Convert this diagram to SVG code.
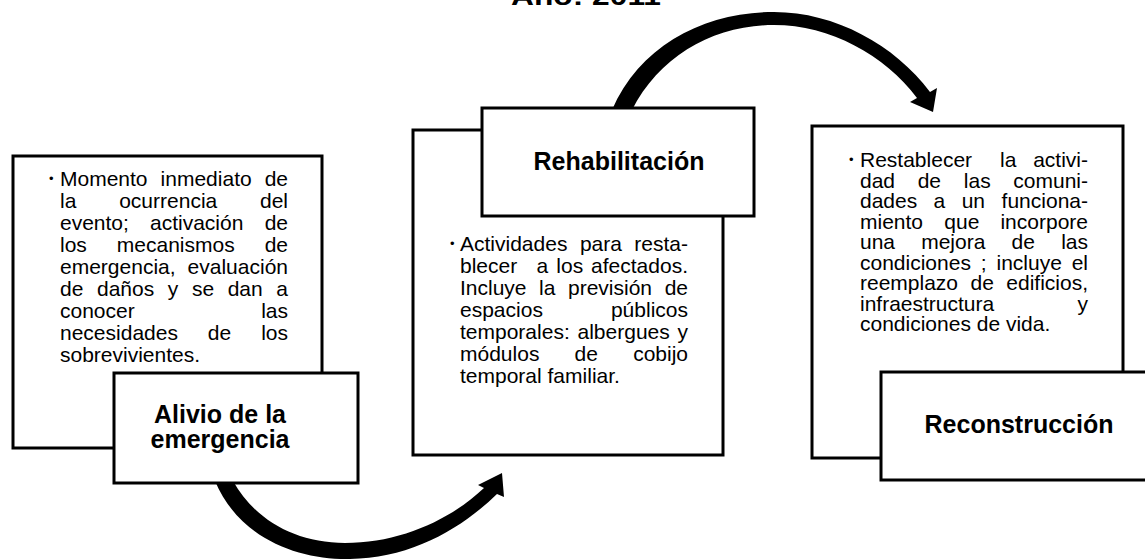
<svg xmlns="http://www.w3.org/2000/svg" width="1145" height="560" viewBox="0 0 1145 560">
<style>
.box{fill:#fff;stroke:#000;stroke-width:3}
.t{font-family:"Liberation Sans",Arial,sans-serif;font-size:21px;fill:#000}
.e{text-anchor:end}
.b{font-family:"Liberation Sans",Arial,sans-serif;font-size:25px;font-weight:bold;fill:#000;text-anchor:middle}
.bul{font-family:"Liberation Sans",Arial,sans-serif;font-size:13px;fill:#000}
.arrow{fill:#000;stroke:none}
</style>
<rect width="1145" height="560" fill="#fff"/>
<text x="586" y="5" class="b" font-size="28" textLength="150" lengthAdjust="spacingAndGlyphs">Año: 2011</text>
<g id="connectors">
<path class="arrow" d="M612,110 C640,45 705,12 774,12 C835,12 895,45 930,92 L937,88 L933,112 L910,102 L917,98 C885,55 830,25 774,25 C715,25 660,55 632,110 Z"/>
<path class="arrow" d="M215,481 C240,540 300,560 350,559 C410,558 460,530 497,494 L504,497 L502,473 L478,485 L484,488 C450,520 400,543 345,543 C295,543 255,520 233,481 Z"/>
</g>
<g id="alivio-text">
<rect class="box" x="13" y="156" width="309" height="292"/>
<text class="bul" x="49" y="183">•</text>
<text class="t" y="186"><tspan x="60">Momento</tspan><tspan x="160.6">inmediato</tspan></text>
<text class="t e" x="288" y="186">de</text>
<text class="t" y="208"><tspan x="60">la</tspan><tspan x="119.2">ocurrencia</tspan></text>
<text class="t e" x="288" y="208">del</text>
<text class="t" y="230"><tspan x="60">evento;</tspan><tspan x="150">activación</tspan></text>
<text class="t e" x="288" y="230">de</text>
<text class="t" y="252"><tspan x="60">los</tspan><tspan x="116.8">mecanismos</tspan></text>
<text class="t e" x="288" y="252">de</text>
<text class="t" x="60" y="274">emergencia,</text>
<text class="t e" x="288" y="274">evaluación</text>
<text class="t" y="296"><tspan x="60">de</tspan><tspan x="97">daños</tspan><tspan x="167.8">y</tspan><tspan x="191.9">se</tspan><tspan x="227.7">dan</tspan></text>
<text class="t e" x="288" y="296">a</text>
<text class="t" x="60" y="318">conocer</text>
<text class="t e" x="288" y="318">las</text>
<text class="t" y="340"><tspan x="60">necesidades</tspan><tspan x="207.8">de</tspan></text>
<text class="t e" x="288" y="340">los</text>
<text class="t" x="60" y="362">sobrevivientes.</text>
</g>
<g id="alivio-label">
<rect class="box" x="114" y="373" width="244" height="110"/>
<text class="b" x="220" y="423">Alivio de la</text>
<text class="b" x="220" y="448">emergencia</text>
</g>
<g id="rehabilitacion-text">
<rect class="box" x="413" y="130" width="310" height="325"/>
<text class="bul" x="450" y="248">•</text>
<text class="t" y="251"><tspan x="460">Actividades</tspan><tspan x="579.9">para</tspan></text>
<text class="t e" x="688" y="251">resta-</text>
<text class="t" y="273"><tspan x="460">blecer</tspan><tspan x="536.6">a</tspan><tspan x="556.3">los</tspan></text>
<text class="t e" x="688" y="273">afectados.</text>
<text class="t" y="295"><tspan x="460">Incluye</tspan><tspan x="539.1">la</tspan><tspan x="568">previsión</tspan></text>
<text class="t e" x="688" y="295">de</text>
<text class="t" x="460" y="317">espacios</text>
<text class="t e" x="688" y="317">públicos</text>
<text class="t" y="339"><tspan x="460">temporales:</tspan><tspan x="577.5">albergues</tspan></text>
<text class="t e" x="688" y="339">y</text>
<text class="t" y="361"><tspan x="460">módulos</tspan><tspan x="574.6">de</tspan></text>
<text class="t e" x="688" y="361">cobijo</text>
<text class="t" x="460" y="383">temporal familiar.</text>
</g>
<g id="rehabilitacion-label">
<rect class="box" x="482" y="108" width="272" height="108"/>
<text class="b" x="619" y="170">Rehabilitación</text>
</g>
<g id="reconstruccion-text">
<rect class="box" x="812" y="126" width="311" height="332"/>
<text class="bul" x="849" y="164">•</text>
<text class="t" y="167"><tspan x="860">Restablecer</tspan><tspan x="1000">la</tspan></text>
<text class="t e" x="1088" y="167">activi-</text>
<text class="t" y="187.5"><tspan x="860">dad</tspan><tspan x="917.7">de</tspan><tspan x="963.8">las</tspan></text>
<text class="t e" x="1088" y="187.5">comuni-</text>
<text class="t" y="208"><tspan x="860">dades</tspan><tspan x="933.6">a</tspan><tspan x="961.7">un</tspan></text>
<text class="t e" x="1088" y="208">funciona-</text>
<text class="t" y="228.5"><tspan x="860">miento</tspan><tspan x="944.3">que</tspan></text>
<text class="t e" x="1088" y="228.5">incorpore</text>
<text class="t" y="249"><tspan x="860">una</tspan><tspan x="921.2">mejora</tspan><tspan x="1011.6">de</tspan></text>
<text class="t e" x="1088" y="249">las</text>
<text class="t" y="269.5"><tspan x="860">condiciones</tspan><tspan x="980.8">;</tspan><tspan x="996.5">incluye</tspan></text>
<text class="t e" x="1088" y="269.5">el</text>
<text class="t" y="290"><tspan x="860">reemplazo</tspan><tspan x="970.5">de</tspan></text>
<text class="t e" x="1088" y="290">edificios,</text>
<text class="t" x="860" y="310.5">infraestructura</text>
<text class="t e" x="1088" y="310.5">y</text>
<text class="t" x="860" y="331">condiciones de vida.</text>
</g>
<g id="reconstruccion-label">
<rect class="box" x="881" y="372" width="280" height="108"/>
<text class="b" x="1019" y="433">Reconstrucción</text>
</g>
</svg>
